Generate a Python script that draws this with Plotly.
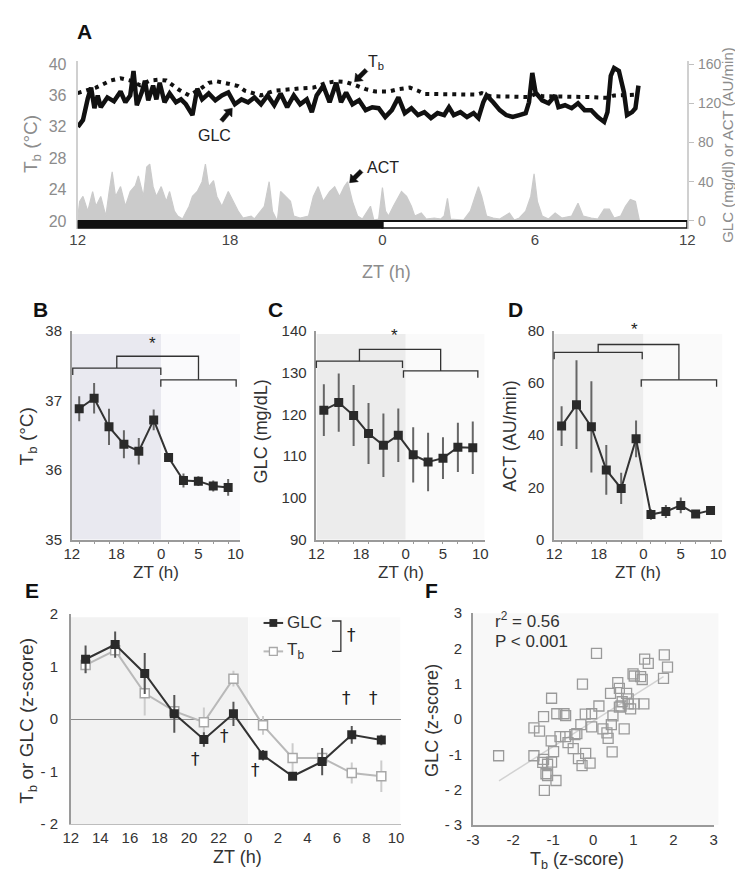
import plotly.graph_objects as go

W, H = 743, 873
def fx(p): return p / W
def fy(p): return 1 - p / H

FONT = "Arial, Liberation Sans, sans-serif"
NARROW = "Liberation Sans Narrow, Arial Narrow, Liberation Sans, Arial, sans-serif"

# ---------------- Panel A data (ZT hours on a continuous 12..36 scale) ----------------
tb_t = [12.00, 12.72, 13.30, 13.69, 14.07, 14.46, 14.84, 15.17, 15.49, 15.75, 16.00, 16.39,
        16.77, 17.16, 17.48, 17.93, 18.32, 18.58, 19.22, 19.74, 20.25, 20.76, 21.28, 21.79,
        22.18, 22.57, 22.95, 23.34, 23.72, 24.24, 24.63, 25.08, 25.40, 25.65, 27.71, 27.91,
        28.23, 29.77, 30.03, 30.29, 32.09, 32.86, 33.12, 34.02]
tb_v = [36.3, 37.0, 37.9, 38.2, 37.9, 37.3, 37.9, 38.0, 37.9, 37.3, 36.7, 36.0,
        36.7, 37.6, 37.8, 37.5, 37.2, 36.6, 36.0, 36.6, 36.8, 36.9, 37.0, 37.6,
        37.8, 37.7, 37.3, 36.8, 36.5, 36.5, 36.8, 37.0, 36.6, 36.2, 36.1, 36.3,
        35.9, 35.8, 36.2, 35.9, 35.8, 35.7, 36.0, 36.1]

glc_t = [12.01, 12.21, 12.40, 12.53, 12.66, 12.79, 12.91, 13.17, 13.43, 13.69,
         13.88, 14.07, 14.20, 14.33, 14.52, 14.65, 14.78, 14.97, 15.10, 15.23,
         15.42, 15.62, 15.87, 16.07, 16.26, 16.52, 16.71, 16.90, 17.16, 17.42,
         17.68, 17.93, 18.19, 18.45, 18.71, 18.96, 19.22, 19.48, 19.74, 19.99,
         20.25, 20.51, 20.76, 21.02, 21.22, 21.41, 21.67, 21.92, 22.18, 22.37,
         22.57, 22.82, 23.08, 23.34, 23.60, 23.85, 24.11, 24.37, 24.63, 24.88,
         25.14, 25.40, 25.65, 25.91, 26.17, 26.43, 26.62, 26.81, 27.07, 27.33,
         27.59, 27.78, 27.97, 28.10, 28.36, 28.62, 28.87, 29.13, 29.39, 29.64,
         29.77, 29.90, 30.03, 30.29, 30.54, 30.80, 30.93, 31.19, 31.45, 31.70,
         31.96, 32.22, 32.48, 32.73, 32.86, 32.99, 33.12, 33.31, 33.51, 33.63,
         33.83, 33.96, 34.08]
glc_v = [96, 103, 125, 136, 115, 128, 116, 126, 122, 132,
         121, 128, 153, 118, 131, 143, 123, 138, 124, 141,
         121, 130, 121, 124, 119, 108, 135, 124, 130, 123,
         128, 131, 119, 124, 121, 126, 119, 128, 118, 130,
         116, 128, 119, 124, 111, 128, 138, 121, 141, 121,
         131, 119, 123, 113, 116, 115, 106, 113, 126, 110,
         115, 108, 111, 105, 110, 108, 116, 108, 111, 106,
         110, 105, 121, 128, 121, 113, 108, 106, 108, 110,
         121, 151, 131, 123, 120, 128, 116, 118, 115, 120,
         113, 113, 106, 101, 111, 148, 156, 153, 131, 108,
         111, 115, 138]

act_t = [12.00, 12.08, 12.21, 12.40, 12.59, 12.72, 12.91, 13.11, 13.24, 13.36,
         13.49, 13.69, 13.88, 14.07, 14.27, 14.39, 14.59, 14.72, 14.84, 14.97,
         15.10, 15.29, 15.49, 15.62, 15.81, 15.94, 16.13, 16.39, 16.52, 16.71,
         16.90, 17.03, 17.16, 17.35, 17.48, 17.68, 17.93, 18.13, 18.32, 18.51,
         18.83, 18.96, 19.35, 19.54, 19.67, 19.86, 19.99, 20.19, 20.38, 20.51,
         20.76, 21.09, 21.28, 21.47, 21.67, 21.92, 22.12, 22.31, 22.50, 22.63,
         22.82, 23.02, 23.21, 23.53, 23.66, 23.85, 24.00, 24.12, 24.24, 24.43,
         24.63, 24.75, 24.95, 25.14, 25.27, 25.53, 25.72, 26.04, 26.30, 26.43,
         26.56, 26.68, 27.20, 27.46, 27.65, 27.78, 27.91, 28.10, 28.36, 28.62,
         29.00, 29.19, 29.39, 29.64, 29.84, 29.97, 30.10, 30.29, 30.54, 30.80,
         31.06, 31.45, 31.70, 31.90, 32.22, 32.48, 32.73, 32.93, 33.12, 33.38,
         33.57, 33.76, 33.96, 34.08, 34.12]
act_v = [3, 20, 25, 10, 30, 15, 25, 5, 30, 50,
         25, 35, 15, 30, 36, 46, 25, 55, 58, 35,
         25, 35, 20, 30, 10, 5, 2, 15, 25, 30,
         40, 58, 35, 41, 25, 15, 30, 20, 10, 3,
         5, 2, 15, 40, 10, 0, 30, 25, 20, 5,
         3, 5, 25, 35, 20, 30, 35, 25, 35, 40,
         20, 5, 2, 15, 1, 2, 34, 10, 5, 15,
         25, 30, 25, 15, 5, 8, 2, 3, 2, 5,
         23, 2, 1, 10, 25, 35, 25, 5, 3, 2,
         8, 1, 3, 10, 25, 48, 20, 5, 2, 8,
         3, 5, 18, 5, 3, 2, 12, 12, 3, 5,
         15, 22, 20, 3, 0]

a_ticks = [12, 18, 24, 30, 36]
a_ticktext = ["12", "18", "0", "6", "12"]

# ---------------- Panels B-D: 2-h bins ----------------
bin_zt = [13, 15, 17, 19, 21, 23, 25, 27, 29, 31, 33]
tb_mean = [36.88, 37.03, 36.62, 36.37, 36.27, 36.72, 36.18, 35.85, 35.84, 35.77, 35.75]
tb_err = [0.18, 0.22, 0.26, 0.20, 0.19, 0.15, 0.05, 0.10, 0.07, 0.08, 0.12]
glc_mean = [121.0, 122.8, 119.7, 115.4, 112.6, 115.0, 110.3, 108.6, 109.5, 112.1, 112.0]
glc_err = [6.2, 7.0, 7.3, 7.3, 7.6, 6.4, 6.6, 7.0, 5.0, 5.9, 6.3]
act_mean = [43.5, 51.7, 43.2, 26.7, 19.6, 38.6, 9.6, 10.8, 13.1, 9.8, 11.2]
act_err = [7.6, 17.0, 17.5, 9.5, 6.0, 7.0, 2.0, 2.5, 3.0, 1.5, 1.5]
bcd_ticks = [12, 18, 24, 29, 34]
bcd_ticktext = ["12", "18", "0", "5", "10"]

# ---------------- Panel E: z-scores ----------------
z_glc = [1.14, 1.42, 0.87, 0.10, -0.39, 0.10, -0.69, -1.09, -0.81, -0.30, -0.40]
z_glc_err = [0.26, 0.25, 0.39, 0.36, 0.14, 0.23, 0.10, 0.07, 0.26, 0.17, 0.10]
z_tb = [1.03, 1.31, 0.49, 0.15, -0.06, 0.77, -0.12, -0.74, -0.74, -1.03, -1.09]
z_tb_err = [0.17, 0.10, 0.42, 0.10, 0.28, 0.15, 0.18, 0.28, 0.10, 0.20, 0.30]
e_ticks = [12, 14, 16, 18, 20, 22, 24, 26, 28, 30, 32, 34]
e_ticktext = ["12", "14", "16", "18", "20", "22", "0", "2", "4", "6", "8", "10"]

# ---------------- Panel F: scatter ----------------
f_tb = [-2.36, -1.48, -1.48, -1.34, -1.24, -1.24, -1.26, -1.14, -1.18, -1.14, -1.22,
        -1.04, -1.05, -1.04, -0.99, -0.93, -0.91, -0.83, -0.73, -0.69, -0.69, -0.63,
        -0.50, -0.46, -0.41, -0.37, -0.31, -0.28, -0.27, -0.20, -0.19, -0.08, -0.04,
        -0.04, 0.08, 0.14, 0.24, 0.34, 0.37, 0.45, 0.47, 0.49, 0.43, 0.61, 0.65,
        0.65, 0.69, 0.72, 0.77, 0.83, 0.87, 0.87, 0.93, 0.99, 1.02, 1.02, 1.18,
        1.22, 1.26, 1.28, 1.37, 1.75, 1.77, 1.85]
f_glc = [-1.04, -1.04, -0.25, -0.34, 0.07, -1.14, -1.23, -1.28, -1.55, -1.60, -2.02,
         0.59, -0.62, -1.22, -0.92, -1.74, 0.15, -0.50, 0.15, 0.10, -0.50, -0.67,
         -0.84, -0.44, -0.41, -1.12, -0.16, -1.32, 0.99, 0.14, -0.97, -1.25, -0.22,
         0.15, 1.86, 0.37, -0.28, -0.39, -0.55, -0.16, -0.93, 0.09, 0.73, 1.03, 0.87,
         0.34, 0.37, 0.49, -0.28, 0.73, 0.43, 0.57, 0.29, 1.28, 1.22, 0.43, 1.20,
         1.12, 0.43, 1.70, 1.58, 1.15, 1.82, 1.47]
fit_x = [-2.35, 1.75]
fit_y = [-1.75, 1.20]
f_ticks = [-3, -2, -1, 0, 1, 2, 3]
f_xticktext = ["-3", "-2", "-1", "0", "1", "2", "3"]
f_yticktext = ["- 3", "- 2", "-1", "0", "1", "2", "3"]

fig = go.Figure()

# Panel A traces
fig.add_trace(go.Scatter(x=act_t, y=act_v, xaxis="x", yaxis="y2", mode="lines",
                         fill="tozeroy", fillcolor="#cbcbcb",
                         line=dict(color="#cbcbcb", width=1.2), showlegend=False))
fig.add_trace(go.Scatter(x=tb_t, y=tb_v, xaxis="x", yaxis="y", mode="lines",
                         line=dict(color="#111", width=4, dash="4px,5px"), showlegend=False))
fig.add_trace(go.Scatter(x=glc_t, y=glc_v, xaxis="x", yaxis="y2", mode="lines",
                         line=dict(color="#111", width=4.5), showlegend=False))

# Panels B, C, D
def mean_trace(xa, ya, y, e):
    return go.Scatter(x=bin_zt, y=y, xaxis=xa, yaxis=ya, mode="lines+markers",
                      line=dict(color="#333", width=2),
                      marker=dict(symbol="square", size=9, color="#2a2a2a"),
                      error_y=dict(type="data", array=e, color="#666", thickness=2, width=0),
                      showlegend=False)
fig.add_trace(mean_trace("x2", "y3", tb_mean, tb_err))
fig.add_trace(mean_trace("x3", "y4", glc_mean, glc_err))
fig.add_trace(mean_trace("x4", "y5", act_mean, act_err))

# Panel E
fig.add_trace(go.Scatter(x=bin_zt, y=z_tb, xaxis="x5", yaxis="y6", mode="lines+markers",
                         line=dict(color="#b9b9b9", width=2),
                         marker=dict(symbol="square", size=9, color="white",
                                     line=dict(color="#a8a8a8", width=1.5)),
                         error_y=dict(type="data", array=z_tb_err, color="#cccccc", thickness=2, width=0),
                         showlegend=False))
fig.add_trace(go.Scatter(x=bin_zt, y=z_glc, xaxis="x5", yaxis="y6", mode="lines+markers",
                         line=dict(color="#333", width=2),
                         marker=dict(symbol="square", size=9, color="#2a2a2a"),
                         error_y=dict(type="data", array=z_glc_err, color="#555", thickness=2, width=0),
                         showlegend=False))

# Panel F
fig.add_trace(go.Scatter(x=fit_x, y=fit_y, xaxis="x6", yaxis="y7", mode="lines",
                         line=dict(color="#d2d2d2", width=1.5), showlegend=False))
fig.add_trace(go.Scatter(x=f_tb, y=f_glc, xaxis="x6", yaxis="y7", mode="markers",
                         marker=dict(symbol="square-open", size=10, color="#9a9a9a",
                                     line=dict(width=1.3)), showlegend=False))

# ---------------- Layout / axes ----------------
GRAY_A = "#8c8c8c"
def dom_x(a, b): return [fx(a), fx(b)]
def dom_y(top, bottom): return [fy(bottom), fy(top)]

layout = dict(
    width=W, height=H, margin=dict(l=0, r=0, t=0, b=0),
    paper_bgcolor="white", plot_bgcolor="rgba(0,0,0,0)",
    font=dict(family=FONT, color="#333", size=14),
    showlegend=False,
)

# A
layout["xaxis"] = dict(domain=dom_x(63, 686), range=[12, 36], anchor="y",
                       tickmode="array", tickvals=a_ticks, ticktext=a_ticktext,
                       showline=False, showgrid=False, zeroline=False, ticks="",
                       tickfont=dict(family=NARROW, size=15, color="#444"))
layout["yaxis"] = dict(domain=dom_y(45, 216), range=[19, 40.375], anchor="x",
                       tickmode="array", tickvals=[20, 24, 28, 32, 36, 40],
                       showline=True, linecolor="#d0d0d0", linewidth=2,
                       showgrid=False, zeroline=False, ticks="", ticklabelstandoff=6,
                       tickfont=dict(family=NARROW, size=16, color=GRAY_A))
layout["yaxis2"] = dict(overlaying="y", side="right", anchor="x", range=[-8, 163],
                        tickmode="array", tickvals=[0, 40, 80, 120, 160],
                        showline=True, linecolor="#d0d0d0", linewidth=2,
                        showgrid=False, zeroline=False, ticks="outside", ticklen=5,
                        tickcolor="#c0c0c0", ticklabelstandoff=1,
                        tickfont=dict(family=NARROW, size=14, color=GRAY_A))

bcd_common = dict(range=[12, 34.6], tickmode="array", tickvals=bcd_ticks, ticktext=bcd_ticktext,
                  showline=True, linecolor="#9a9a9a", linewidth=1.5, showgrid=False,
                  zeroline=False, ticks="",
                  minor=dict(tickmode="array", tickvals=list(range(13, 35, 2)), ticks="outside",
                             ticklen=3, tickcolor="#9a9a9a"),
                  tickfont=dict(size=15, color="#333"))
yax_common = dict(showline=True, linecolor="#9a9a9a", linewidth=1.5, showgrid=False,
                  zeroline=False, ticks="", ticklabelstandoff=5,
                  tickfont=dict(size=15, color="#333"))

layout["xaxis2"] = dict(domain=dom_x(57, 229), anchor="y3", **bcd_common)
layout["yaxis3"] = dict(domain=dom_y(320, 533), anchor="x2", range=[35, 38],
                        tickvals=[35, 36, 37, 38], **yax_common)
layout["xaxis3"] = dict(domain=dom_x(307, 479), anchor="y4", **bcd_common)
layout["yaxis4"] = dict(domain=dom_y(320, 533), anchor="x3", range=[90, 140],
                        tickvals=[90, 100, 110, 120, 130, 140], **yax_common)
layout["xaxis4"] = dict(domain=dom_x(550, 722), anchor="y5", **bcd_common)
layout["yaxis5"] = dict(domain=dom_y(320, 533), anchor="x4", range=[0, 80],
                        tickvals=[0, 20, 40, 60, 80], **yax_common)

# E
layout["xaxis5"] = dict(domain=dom_x(56, 393), anchor="y6", range=[12, 34.3],
                        tickmode="array", tickvals=e_ticks, ticktext=e_ticktext,
                        showline=True, linecolor="#bdbdbd", linewidth=1, showgrid=False,
                        zeroline=False, ticks="", tickfont=dict(size=15, color="#333"))
layout["yaxis6"] = dict(domain=dom_y(609, 823), anchor="x5", range=[-2, 2],
                        tickmode="array", tickvals=[-2, -1, 0, 1, 2],
                        ticktext=["- 2", "- 1", "0", "1", "2"],
                        showline=True, linecolor="#9a9a9a", linewidth=1.5, showgrid=False,
                        zeroline=True, zerolinecolor="#8a8a8a", zerolinewidth=1.2,
                        ticks="", ticklabelstandoff=8, tickfont=dict(size=15, color="#333"))
# F
layout["xaxis6"] = dict(domain=dom_x(467, 713), anchor="y7", range=[-3, 3],
                        tickmode="array", tickvals=f_ticks, ticktext=f_xticktext,
                        showline=True, linecolor="#9a9a9a", linewidth=1.5, showgrid=False,
                        zeroline=False, ticks="", tickfont=dict(size=15, color="#333"))
layout["yaxis7"] = dict(domain=dom_y(608, 824), anchor="x6", range=[-3, 3],
                        tickmode="array", tickvals=f_ticks, ticktext=f_yticktext,
                        showline=True, linecolor="#9a9a9a", linewidth=1.5, showgrid=False,
                        zeroline=False, ticks="", ticklabelstandoff=6,
                        tickfont=dict(size=15, color="#333"))

fig.update_layout(**layout)

# ---------------- Shapes ----------------
shapes = []
def shade(xref, ydom, x0, x1, color):
    shapes.append(dict(type="rect", xref=xref, yref=ydom + " domain", x0=x0, x1=x1,
                       y0=0, y1=0.985, fillcolor=color, line=dict(width=0), layer="below"))
shade("x2", "y3", 12, 24, "#e9e9f0"); shade("x2", "y3", 24, 34.6, "#fafafc")
shade("x3", "y4", 12, 24, "#ececec"); shade("x3", "y4", 24, 34.6, "#fafafa")
shade("x4", "y5", 12, 24, "#ededed"); shade("x4", "y5", 24, 34.6, "#fafafa")
shade("x5", "y6", 12, 24, "#f2f2f2"); shade("x5", "y6", 24, 34.3, "#fbfbfb")
shapes.append(dict(type="rect", xref="x6 domain", yref="y7 domain", x0=0, x1=1.02, y0=0, y1=1.0,
                   fillcolor="#f8f8f8", line=dict(width=0), layer="below"))

# Light/dark bar in panel A
shapes.append(dict(type="rect", xref="x", yref="y2", x0=24, x1=36, y0=-7.5, y1=0,
                   fillcolor="white", line=dict(color="#111", width=2)))
shapes.append(dict(type="rect", xref="x", yref="y2", x0=12, x1=24, y0=-7.5, y1=0,
                   fillcolor="#111", line=dict(color="#111", width=2)))

def path(pts, color="#333", width=1.3):
    d = "M " + " L ".join(f"{fx(x):.5f},{fy(y):.5f}" for x, y in pts)
    shapes.append(dict(type="path", xref="paper", yref="paper", path=d,
                       line=dict(color=color, width=width)))

# Significance brackets B, C, D
for (l0, l1, ly, r0, r1, ry, ty) in [(58, 148, 358, 148, 225, 370, 346),
                                      (307, 395, 351, 396, 472, 361, 339),
                                      (550, 640, 342, 639, 716, 370, 334)]:
    path([(l0, ly + 7), (l0, ly), (l1, ly), (l1, ly + 7)])
    path([(r0, ry + 7), (r0, ry), (r1, ry), (r1, ry + 7)])
    lm, rm = (l0 + l1) / 2, (r0 + r1) / 2
    path([(lm, ly), (lm, ty), (rm, ty), (rm, ry)])

# Panel E legend glyphs
path([(253, 618), (273, 618)], "#333", 2)
shapes.append(dict(type="rect", xref="paper", yref="paper", x0=fx(259), x1=fx(267),
                   y0=fy(622), y1=fy(614), fillcolor="#2a2a2a", line=dict(width=0)))
path([(253, 647), (273, 647)], "#b9b9b9", 2)
shapes.append(dict(type="rect", xref="paper", yref="paper", x0=fx(259), x1=fx(267),
                   y0=fy(651), y1=fy(643), fillcolor="white", line=dict(color="#a8a8a8", width=1.3)))
path([(323, 616), (332, 616), (332, 647), (323, 647)], "#333", 1.3)

# Arrows in panel A (short thick shafts with heads drawn as paths)
def fat_arrow(hx, hy, tx, ty):
    import math
    dx, dy = hx - tx, hy - ty
    L = math.hypot(dx, dy)
    ux, uy = dx / L, dy / L
    px_, py_ = -uy, ux
    hl, hw, sw = 7.0, 5.5, 2.2
    bx, by = hx - ux * hl, hy - uy * hl
    pts = [(tx + px_ * sw, ty + py_ * sw), (bx + px_ * sw, by + py_ * sw),
           (bx + px_ * hw, by + py_ * hw), (hx, hy),
           (bx - px_ * hw, by - py_ * hw), (bx - px_ * sw, by - py_ * sw),
           (tx - px_ * sw, ty - py_ * sw)]
    d = "M " + " L ".join(f"{fx(x):.5f},{fy(y):.5f}" for x, y in pts) + " Z"
    shapes.append(dict(type="path", xref="paper", yref="paper", path=d,
                       fillcolor="#111", line=dict(color="#111", width=0.5)))

fat_arrow(346, 66, 358, 54)
fat_arrow(221, 93, 210, 106)
fat_arrow(341, 169, 353, 157)

fig.update_layout(shapes=shapes)

# ---------------- Annotations ----------------
ann = []
def text(x, y, s, size=15, color="#333", bold=False, angle=0, xanchor="center", family=FONT):
    if bold:
        s = "<b>" + s + "</b>"
    ann.append(dict(xref="paper", yref="paper", x=fx(x), y=fy(y), text=s, showarrow=False,
                    font=dict(size=size, color=color, family=family), textangle=angle,
                    xanchor=xanchor, yanchor="middle"))

# panel letters
text(70, 15, "A", 21, "#111", True)
text(25, 298, "B", 21, "#111", True)
text(265, 298, "C", 21, "#111", True)
text(510, 298, "D", 21, "#111", True)
text(16, 585, "E", 21, "#111", True)
text(425, 585, "F", 21, "#111", True)

# Panel A texts
text(17, 130, "T<sub>b</sub> (°C)", 19, GRAY_A, angle=-90, family=NARROW)
text(727, 130, "GLC (mg/dl) or ACT (AU/min)", 15, GRAY_A, angle=-90, family=NARROW)
text(379, 260, "ZT (h)", 18, GRAY_A, family=NARROW)
text(368, 46, "T<sub>b</sub>", 16, "#222", family=NARROW)
text(203, 121, "GLC", 16, "#222", family=NARROW)
text(375, 153, "ACT", 16, "#222", family=NARROW)

# Panels B-D titles
text(12, 428, "T<sub>b</sub> (°C)", 19, "#333", angle=-90)
text(250, 423, "GLC (mg/dL)", 18, "#333", angle=-90)
text(505, 427, "ACT (AU/min)", 18, "#333", angle=-90)
for cx in (143, 393, 636):
    text(cx, 567, "ZT (h)", 17)
for sx, sy in ((140, 333), (387, 325), (632, 319)):
    text(sx, sy, "*", 17, "#222")

# Panel E texts
text(12, 718, "T<sub>b</sub> or GLC (z-score)", 19, "#333", angle=-90)
text(226, 857, "ZT (h)", 18)
text(275, 618, "GLC", 17, xanchor="left")
text(275, 647, "T<sub>b</sub>", 17, xanchor="left")
DAG = "DejaVu Sans, Liberation Sans, sans-serif"
for dx, dy in ((343, 630), (183, 757), (213, 733), (245, 768), (338, 695), (365, 695)):
    text(dx, dy, "†", 17, "#222", family=DAG)

# Panel F texts
text(425, 717, "GLC (z-score)", 18, "#333", angle=-90)
text(573, 860, "T<sub>b</sub> (z-score)", 18)
text(487, 615, "r<sup>2</sup> = 0.56", 17, xanchor="left")
text(487, 637, "P < 0.001", 17, xanchor="left")

fig.update_layout(annotations=ann)
fig.write_html("out.html")
